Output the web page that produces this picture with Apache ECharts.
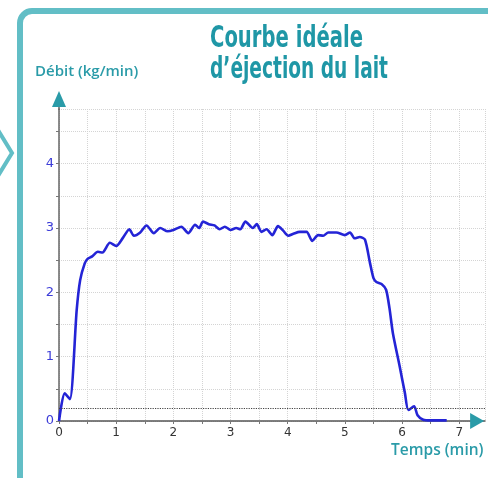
<!DOCTYPE html>
<html>
<head>
<meta charset="utf-8">
<script src="https://cdn.jsdelivr.net/npm/echarts@6/dist/echarts.min.js"></script>
<style>
  html, body { margin: 0; padding: 0; background: #fff; }
  #chart { width: 488px; height: 478px; }
</style>
</head>
<body>
<div id="chart"></div>
<script>
// courbe de débit (temps en min, débit en kg/min)
const temps = [0, 0.1, 0.19, 0.31, 0.37, 0.45, 0.5, 0.58, 0.68, 0.76, 0.89, 1.0, 1.12, 1.23, 1.31, 1.42, 1.53, 1.66, 1.77, 1.9, 2.0, 2.14, 2.26, 2.38, 2.45, 2.52, 2.62, 2.72, 2.81, 2.9, 3.0, 3.1, 3.17, 3.26, 3.39, 3.46, 3.54, 3.63, 3.73, 3.83, 3.92, 4.01, 4.1, 4.21, 4.33, 4.43, 4.53, 4.62, 4.71, 4.85, 5.0, 5.09, 5.17, 5.26, 5.35, 5.44, 5.5, 5.55, 5.64, 5.72, 5.78, 5.84, 5.96, 6.05, 6.11, 6.21, 6.27, 6.37, 6.5, 6.78]
const debit = [0, 0.43, 0.34, 1.73, 2.19, 2.45, 2.52, 2.56, 2.63, 2.62, 2.77, 2.72, 2.85, 2.98, 2.88, 2.93, 3.04, 2.92, 3.0, 2.95, 2.97, 3.02, 2.92, 3.05, 3.0, 3.1, 3.06, 3.04, 2.98, 3.02, 2.97, 3.0, 2.98, 3.1, 3.0, 3.06, 2.94, 2.98, 2.89, 3.03, 2.96, 2.88, 2.91, 2.94, 2.94, 2.8, 2.89, 2.88, 2.93, 2.93, 2.89, 2.93, 2.84, 2.86, 2.82, 2.45, 2.22, 2.16, 2.13, 2.04, 1.75, 1.36, 0.84, 0.43, 0.17, 0.23, 0.09, 0.02, 0.01, 0.01]
const seuil = 0.2
const titre = ['Courbe idéale', 'd\u2019éjection du lait']

const teal = '#2a9ba8'
const titleFont = 'bold 30px "DejaVu Sans"'
const chart = echarts.init(document.getElementById('chart'), null, { renderer: 'canvas' })

const intLabel = v => (Math.abs(v - Math.round(v)) < 1e-6 ? String(Math.round(v)) : '')

chart.setOption({
  animation: false,
  backgroundColor: '#fff',
  grid: { left: 59, right: 3, top: 109, bottom: 57 },
  xAxis: {
    type: 'value', min: 0, max: 7.45, interval: 0.5,
    axisLine: { onZero: false, lineStyle: { color: '#555', width: 1.5 } },
    axisTick: { show: true, length: 3, lineStyle: { color: '#777' } },
    axisLabel: { formatter: intLabel, color: '#333', fontSize: 12, margin: 6, fontFamily: 'DejaVu Sans', showMaxLabel: false },
    splitLine: { lineStyle: { color: '#d4d4d4', type: 'dotted' } }
  },
  yAxis: {
    type: 'value', min: 0, max: 4.85, interval: 0.5,
    axisLine: { show: true, lineStyle: { color: '#666', width: 1.5 } },
    axisTick: { show: true, length: 3, lineStyle: { color: '#777' } },
    axisLabel: { formatter: intLabel, color: '#3c3cd8', fontSize: 13, margin: 5, fontFamily: 'DejaVu Sans', showMaxLabel: false },
    splitLine: { lineStyle: { color: '#d4d4d4', type: 'dotted' } }
  },
  series: [{
    type: 'line',
    data: temps.map((t, i) => [t, debit[i]]),
    showSymbol: false,
    smooth: 0.25,
    lineStyle: { color: '#2424d6', width: 2.6 },
    markLine: {
      silent: true, symbol: 'none', label: { show: false },
      lineStyle: { color: '#444', type: 'dotted', width: 1.2 },
      data: [{ yAxis: seuil }]
    }
  }]
})

// titre condensé : on mesure la largeur et on compresse horizontalement
const mctx = document.createElement('canvas').getContext('2d')
mctx.font = titleFont
const sx1 = 153 / mctx.measureText(titre[0]).width
const sx2 = 178 / mctx.measureText(titre[1]).width

// cadre, flèches des axes et titres des axes
const o = chart.convertToPixel({ gridIndex: 0 }, [0, 0])
const xEnd = chart.convertToPixel({ gridIndex: 0 }, [7.4, 0])
const yEnd = chart.convertToPixel({ gridIndex: 0 }, [0, 5.13])
chart.setOption({
  graphic: [
    { type: 'rect', shape: { x: 20, y: 11, width: 520, height: 520, r: 12 }, style: { fill: 'none', stroke: '#62bec6', lineWidth: 6 }, z: 10 },
    { type: 'polyline', shape: { points: [[-2, 130], [12, 153], [-2, 176]] }, style: { stroke: '#62bec6', lineWidth: 4, fill: 'none' }, z: 10 },
    { type: 'line', shape: { x1: o[0], y1: 110, x2: o[0], y2: yEnd[1] + 10 }, style: { stroke: '#666', lineWidth: 1.5 }, z: 9 },
    { type: 'polygon', shape: { points: [[xEnd[0] - 12, o[1] - 8], [xEnd[0] + 2, o[1]], [xEnd[0] - 12, o[1] + 8]] }, style: { fill: teal }, z: 10 },
    { type: 'polygon', shape: { points: [[o[0] - 7, yEnd[1] + 16], [o[0], yEnd[1]], [o[0] + 7, yEnd[1] + 16]] }, style: { fill: teal }, z: 10 },
    { type: 'text', x: 210, y: 24, scaleX: sx1, style: { text: titre[0], fill: '#1f97a6', font: titleFont }, z: 10 },
    { type: 'text', x: 210, y: 55, scaleX: sx2, style: { text: titre[1], fill: '#1f97a6', font: titleFont }, z: 10 },
    { type: 'text', left: 35, top: 64, style: { text: 'Débit (kg/min)', fill: teal, fontSize: 15, fontWeight: 600, fontFamily: 'Open Sans' }, z: 10 },
    { type: 'text', left: 391, top: 443, style: { text: 'Temps (min)', fill: teal, fontSize: 15.5, fontWeight: 600, fontFamily: 'Open Sans' }, z: 10 }
  ]
})
</script>
</body>
</html>
